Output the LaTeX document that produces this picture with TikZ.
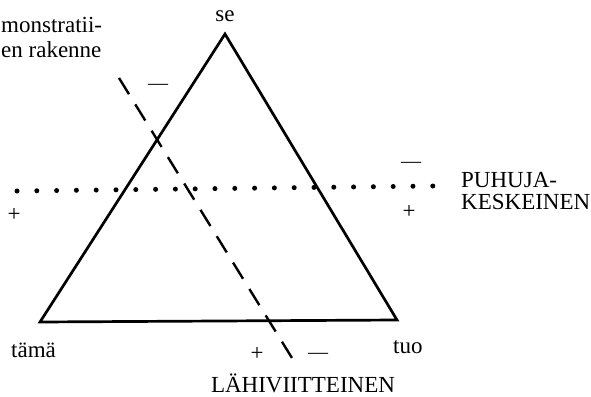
\documentclass[tikz,border=0pt]{standalone}
\usepackage{fontspec}
\setmainfont{Liberation Serif}

\begin{document}
\begin{tikzpicture}[x=1pt, y=-1pt, font=\fontsize{23}{24}\selectfont,
  side/.style={line width=2.7pt},
  cutline/.style={line width=2.4pt, dash pattern=on 19pt off 12pt},
  dotline/.style={line width=5pt, line cap=round, dash pattern=on 0pt off 19.8pt},
  lbl/.style={inner sep=0pt, anchor=base west},
  sign/.style={inner sep=0pt},
  minus/.style={inner sep=0pt, font=\fontsize{20}{20}\selectfont}]
\useasboundingbox (0,0) rectangle (591,396);
% triangle corners
\coordinate (apex) at (225,34);
\coordinate (left) at (40,322);
\coordinate (right) at (397,320);
\draw[side] (left) -- (apex) -- (right) -- cycle;
% the two dividing lines
\coordinate (dotA) at (17,191);
\coordinate (dotB) at (433,186);
\draw[dotline] (dotA) -- (dotB);
\coordinate (cutA) at (119,78);
\coordinate (cutB) at (292,358);
\draw[cutline] (cutA) -- (cutB);
% labels
\node[lbl] (title1) at (1,33) {monstratii-};
\node[lbl] (title2) at (1,57) {en rakenne};
\node[lbl, anchor=base] (se) at (225,22) {se};
\node[lbl] (tama) at (11,357) {tämä};
\node[lbl] (tuo) at (393,353) {tuo};
\node[lbl] (puhuja1) at (461,187) {PUHUJA-};
\node[lbl] (puhuja2) at (461,209) {KESKEINEN};
\node[lbl, anchor=base] (lahi) at (303,392) {LÄHIVIITTEINEN};
% signs
\node[sign] (plusL) at (14,215) {+};
\node[sign] (plusR) at (409,212) {+};
\node[sign] (plusB) at (257,354) {+};
\node[minus] (minusT) at (158,87) {—};
\node[minus] (minusR) at (411,165) {—};
\node[minus] (minusB) at (318,356) {—};
\end{tikzpicture}
\end{document}
